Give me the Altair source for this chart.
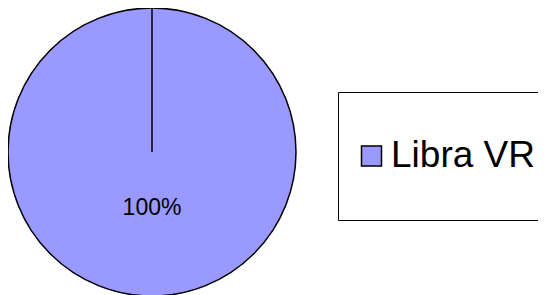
import altair as alt
import pandas as pd

categories = ["Libra VR"]
values = [100]
labels = ["100%"]

df = pd.DataFrame({"category": categories, "value": values, "label": labels})

CX, CY, R = 144, 144, 144

base = alt.Chart(df).encode(
    theta=alt.Theta("value:Q", stack=True),
    x=alt.value(CX),
    y=alt.value(CY),
)

pie = base.mark_arc(stroke="black", strokeWidth=1.5, outerRadius=R).encode(
    color=alt.Color(
        "category:N",
        scale=alt.Scale(domain=categories, range=["#9999FF"]),
        legend=alt.Legend(
            title=None,
            orient="none",
            legendX=330,
            legendY=84,
            padding=15,
            clipHeight=98,
            strokeColor="black",
            cornerRadius=0,
            symbolType="square",
            symbolSize=400,
            symbolStrokeColor="black",
            symbolStrokeWidth=1.5,
            symbolOpacity=1,
            labelFontSize=37,
            labelFont="Liberation Sans",
            labelColor="black",
            labelOffset=1,
            labelLimit=400,
        ),
    )
)

text = base.mark_text(
    radius=56, fontSize=23, font="Liberation Sans", color="black", baseline="middle"
).encode(text="label:N")

rule = alt.Chart(df).mark_rule(color="black", strokeWidth=1.5).encode(
    x=alt.value(CX), y=alt.value(0), y2=alt.value(CY)
)

chart = (
    alt.layer(pie, rule, text)
    .properties(width=530, height=287, padding=0, autosize=alt.AutoSizeParams(type="none"))
    .configure_view(stroke=None)
)

chart.save("out.html", embed_options={"renderer": "svg", "actions": False})
